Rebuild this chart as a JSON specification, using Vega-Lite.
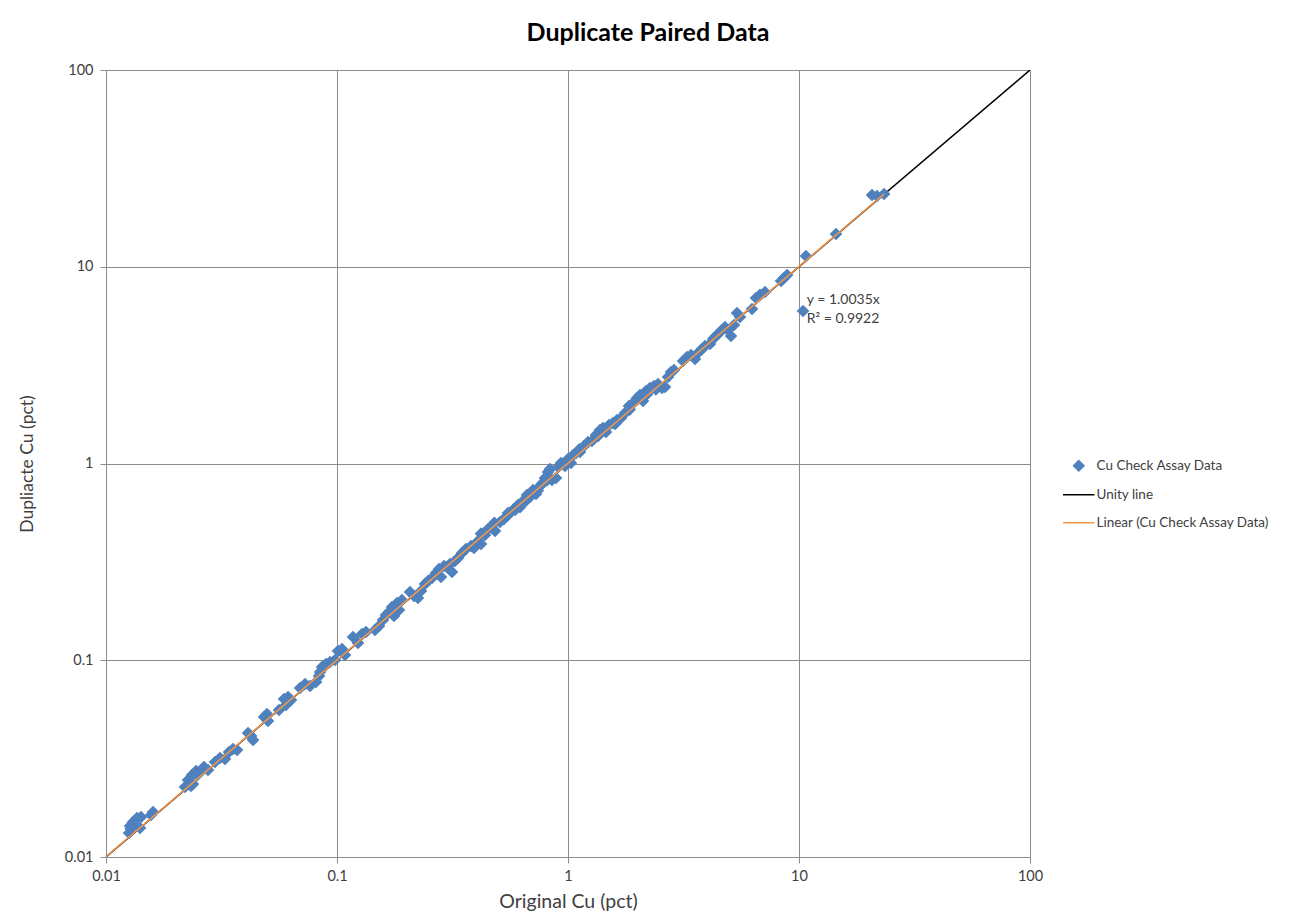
{
  "$schema": "https://vega.github.io/schema/vega-lite/v6.json",
  "autosize": "none",
  "width": 924,
  "height": 787,
  "padding": {"left": 106, "top": 70, "right": 260, "bottom": 65},
  "background": "white",
  "title": {"text": "Duplicate Paired Data", "anchor": "middle", "dx": 80, "fontSize": 25, "font": "Lato", "fontWeight": "bold", "color": "#000000", "offset": 16},
  "config": {
    "font": "Lato",
    "view": {"stroke": "#8c8c8c", "strokeWidth": 1},
    "axis": {"gridColor": "#8c8c8c", "gridOpacity": 1, "gridWidth": 1, "domainColor": "#8c8c8c", "tickColor": "#8c8c8c", "tickSize": 6, "labelFont": "Lato", "labelFontSize": 14.5, "labelColor": "#404040", "labelFlush": false, "titleFont": "Lato", "titleFontSize": 19.5, "titleFontWeight": "normal", "titleColor": "#404040"}
  },
  "datasets": {
    "pts": [
      {"orig": 0.01258, "dup": 0.01324}, {"orig": 0.0127, "dup": 0.01437}, {"orig": 0.01309, "dup": 0.01506}, {"orig": 0.01362, "dup": 0.01578},
      {"orig": 0.01418, "dup": 0.01597}, {"orig": 0.01404, "dup": 0.01404}, {"orig": 0.01566, "dup": 0.01635}, {"orig": 0.01598, "dup": 0.01693},
      {"orig": 0.0128, "dup": 0.0139}, {"orig": 0.0132, "dup": 0.0146},
      {"orig": 0.02198, "dup": 0.02269}, {"orig": 0.02265, "dup": 0.02463}, {"orig": 0.02357, "dup": 0.02611}, {"orig": 0.02453, "dup": 0.02736},
      {"orig": 0.02552, "dup": 0.02704}, {"orig": 0.02656, "dup": 0.02868}, {"orig": 0.02764, "dup": 0.02768}, {"orig": 0.02333, "dup": 0.02296},
      {"orig": 0.0238, "dup": 0.0235}, {"orig": 0.0249, "dup": 0.0261},
      {"orig": 0.02964, "dup": 0.0304}, {"orig": 0.03115, "dup": 0.03185}, {"orig": 0.03274, "dup": 0.03148}, {"orig": 0.03408, "dup": 0.03418},
      {"orig": 0.03547, "dup": 0.03538}, {"orig": 0.03693, "dup": 0.03498}, {"orig": 0.04121, "dup": 0.04268}, {"orig": 0.04246, "dup": 0.04121},
      {"orig": 0.04331, "dup": 0.03932}, {"orig": 0.0483, "dup": 0.05148}, {"orig": 0.04977, "dup": 0.05332}, {"orig": 0.05027, "dup": 0.04912},
      {"orig": 0.05609, "dup": 0.05587}, {"orig": 0.05897, "dup": 0.06353}, {"orig": 0.06137, "dup": 0.06504}, {"orig": 0.06324, "dup": 0.06281},
      {"orig": 0.06017, "dup": 0.05923}, {"orig": 0.06918, "dup": 0.07227}, {"orig": 0.07272, "dup": 0.07574}, {"orig": 0.07642, "dup": 0.07398},
      {"orig": 0.08115, "dup": 0.07755}, {"orig": 0.08361, "dup": 0.08318}, {"orig": 0.0861, "dup": 0.09242}, {"orig": 0.08963, "dup": 0.09572},
      {"orig": 0.09327, "dup": 0.09797}, {"orig": 0.08444, "dup": 0.08716}, {"orig": 0.09802, "dup": 0.1003}, {"orig": 0.101, "dup": 0.1114},
      {"orig": 0.1051, "dup": 0.1141}, {"orig": 0.1083, "dup": 0.1063}, {"orig": 0.1173, "dup": 0.1313}, {"orig": 0.1233, "dup": 0.1224},
      {"orig": 0.1283, "dup": 0.136}, {"orig": 0.1335, "dup": 0.1392}, {"orig": 0.146, "dup": 0.1425}, {"orig": 0.152, "dup": 0.1493},
      {"orig": 0.1582, "dup": 0.1601}, {"orig": 0.163, "dup": 0.1698}, {"orig": 0.168, "dup": 0.1759}, {"orig": 0.173, "dup": 0.1865},
      {"orig": 0.1765, "dup": 0.1678}, {"orig": 0.1819, "dup": 0.1954}, {"orig": 0.1911, "dup": 0.2024}, {"orig": 0.1855, "dup": 0.18},
      {"orig": 0.207, "dup": 0.2223}, {"orig": 0.2154, "dup": 0.2121}, {"orig": 0.2241, "dup": 0.2072}, {"orig": 0.231, "dup": 0.2249},
      {"orig": 0.2404, "dup": 0.2441}, {"orig": 0.2477, "dup": 0.2528}, {"orig": 0.2578, "dup": 0.2618}, {"orig": 0.2683, "dup": 0.2777},
      {"orig": 0.2764, "dup": 0.291}, {"orig": 0.282, "dup": 0.2649}, {"orig": 0.2906, "dup": 0.3013}, {"orig": 0.2993, "dup": 0.2978},
      {"orig": 0.3084, "dup": 0.3084}, {"orig": 0.3147, "dup": 0.281}, {"orig": 0.3242, "dup": 0.3195}, {"orig": 0.3341, "dup": 0.3309},
      {"orig": 0.3476, "dup": 0.3509}, {"orig": 0.3617, "dup": 0.3677}, {"orig": 0.3802, "dup": 0.3808}, {"orig": 0.3918, "dup": 0.372},
      {"orig": 0.4079, "dup": 0.4037}, {"orig": 0.4203, "dup": 0.3899}, {"orig": 0.4374, "dup": 0.4331}, {"orig": 0.4506, "dup": 0.4646},
      {"orig": 0.4689, "dup": 0.47}, {"orig": 0.4831, "dup": 0.4539}, {"orig": 0.42, "dup": 0.44}, {"orig": 0.48, "dup": 0.5},
      {"orig": 0.5077, "dup": 0.5043}, {"orig": 0.5286, "dup": 0.5223}, {"orig": 0.5446, "dup": 0.541}, {"orig": 0.5665, "dup": 0.5669},
      {"orig": 0.5837, "dup": 0.587}, {"orig": 0.6073, "dup": 0.6153}, {"orig": 0.6258, "dup": 0.6226}, {"orig": 0.6448, "dup": 0.6524},
      {"orig": 0.6644, "dup": 0.6918}, {"orig": 0.6846, "dup": 0.6758}, {"orig": 0.7054, "dup": 0.7333}, {"orig": 0.7268, "dup": 0.6998},
      {"orig": 0.7489, "dup": 0.7596}, {"orig": 0.7716, "dup": 0.7868}, {"orig": 0.7951, "dup": 0.844}, {"orig": 0.8192, "dup": 0.9054},
      {"orig": 0.8359, "dup": 0.9376}, {"orig": 0.8524, "dup": 0.8245}, {"orig": 0.8874, "dup": 0.844}, {"orig": 0.55, "dup": 0.56},
      {"orig": 0.62, "dup": 0.6}, {"orig": 0.74, "dup": 0.73}, {"orig": 0.59, "dup": 0.58}, {"orig": 0.66, "dup": 0.65},
      {"orig": 0.78, "dup": 0.8}, {"orig": 0.81, "dup": 0.82},
      {"orig": 0.9055, "dup": 0.9598}, {"orig": 0.9327, "dup": 1.006}, {"orig": 0.9705, "dup": 0.9712}, {"orig": 1.0, "dup": 1.054},
      {"orig": 1.03, "dup": 1.006}, {"orig": 1.083, "dup": 1.131}, {"orig": 1.127, "dup": 1.144}, {"orig": 1.173, "dup": 1.227},
      {"orig": 1.221, "dup": 1.286}, {"orig": 1.27, "dup": 1.301}, {"orig": 1.322, "dup": 1.396}, {"orig": 1.376, "dup": 1.48},
      {"orig": 1.418, "dup": 1.515}, {"orig": 1.461, "dup": 1.446}, {"orig": 1.505, "dup": 1.57}, {"orig": 1.566, "dup": 1.606},
      {"orig": 1.63, "dup": 1.664}, {"orig": 1.696, "dup": 1.703}, {"orig": 1.766, "dup": 1.806}, {"orig": 1.837, "dup": 1.96},
      {"orig": 1.912, "dup": 2.03}, {"orig": 1.99, "dup": 2.153}, {"orig": 2.05, "dup": 2.229}, {"orig": 2.112, "dup": 2.078},
      {"orig": 2.176, "dup": 2.336}, {"orig": 2.265, "dup": 2.419}, {"orig": 2.357, "dup": 2.477}, {"orig": 2.453, "dup": 2.535},
      {"orig": 2.552, "dup": 2.419}, {"orig": 2.63, "dup": 2.448}, {"orig": 2.71, "dup": 2.752}, {"orig": 2.792, "dup": 2.918},
      {"orig": 2.877, "dup": 2.987}, {"orig": 1.05, "dup": 1.1}, {"orig": 1.12, "dup": 1.18}, {"orig": 1.35, "dup": 1.38},
      {"orig": 1.6, "dup": 1.59}, {"orig": 1.85, "dup": 1.88}, {"orig": 2.2, "dup": 2.25}, {"orig": 2.4, "dup": 2.38},
      {"orig": 3.148, "dup": 3.319}, {"orig": 3.275, "dup": 3.478}, {"orig": 3.408, "dup": 3.561}, {"orig": 3.547, "dup": 3.397},
      {"orig": 3.691, "dup": 3.687}, {"orig": 3.803, "dup": 3.819}, {"orig": 3.919, "dup": 3.956}, {"orig": 4.119, "dup": 4.05},
      {"orig": 4.246, "dup": 4.295}, {"orig": 4.372, "dup": 4.446}, {"orig": 4.506, "dup": 4.606}, {"orig": 4.642, "dup": 4.77},
      {"orig": 4.783, "dup": 4.94}, {"orig": 4.926, "dup": 4.77}, {"orig": 5.077, "dup": 4.446}, {"orig": 5.231, "dup": 5.056},
      {"orig": 5.391, "dup": 5.821}, {"orig": 5.554, "dup": 5.554}, {"orig": 6.26, "dup": 6.1}, {"orig": 6.515, "dup": 6.94},
      {"orig": 6.78, "dup": 7.19}, {"orig": 7.125, "dup": 7.44}, {"orig": 8.36, "dup": 8.46}, {"orig": 8.61, "dup": 8.77},
      {"orig": 8.88, "dup": 9.08}, {"orig": 10.72, "dup": 11.34}, {"orig": 10.41, "dup": 5.96}, {"orig": 14.46, "dup": 14.67},
      {"orig": 20.7, "dup": 23.16}, {"orig": 21.76, "dup": 22.89}, {"orig": 23.35, "dup": 23.44}
    ],
    "unity": [{"orig": 0.01, "dup": 0.01}, {"orig": 100, "dup": 100}],
    "trend": [{"orig": 0.01, "dup": 0.010035}, {"orig": 23.35, "dup": 23.432}],
    "eq": [{"orig": 10.8, "dup": 6.75, "label": "y = 1.0035x"}, {"orig": 10.8, "dup": 5.45, "label": "R² = 0.9922"}]
  },
  "encoding": {
    "x": {"field": "orig", "type": "quantitative", "scale": {"type": "log", "domain": [0.01, 100], "nice": false},
          "axis": {"title": "Original Cu (pct)", "values": [0.01, 0.1, 1, 10, 100], "format": "~g", "labelPadding": 6, "titlePadding": 10}},
    "y": {"field": "dup", "type": "quantitative", "scale": {"type": "log", "domain": [0.01, 100], "nice": false},
          "axis": {"title": "Dupliacte Cu (pct)", "values": [0.01, 0.1, 1, 10, 100], "format": "~g", "labelPadding": 7, "titlePadding": 28, "titleFontSize": 17.5}}
  },
  "layer": [
    {
      "data": {"name": "unity"},
      "transform": [{"calculate": "'Unity line'", "as": "series"}],
      "mark": {"type": "line", "strokeWidth": 1.5, "clip": true},
      "encoding": {"color": {"field": "series", "type": "nominal", "scale": {"domain": ["Cu Check Assay Data", "Unity line", "Linear (Cu Check Assay Data)"], "range": ["#4F81BD", "#000000", "#F79646"]}}}
    },
    {
      "data": {"name": "pts"},
      "transform": [{"calculate": "'Cu Check Assay Data'", "as": "series"}],
      "mark": {"type": "point", "filled": true, "opacity": 1, "size": 160},
      "encoding": {
        "color": {"field": "series", "type": "nominal", "scale": {"domain": ["Cu Check Assay Data", "Unity line", "Linear (Cu Check Assay Data)"], "range": ["#4F81BD", "#000000", "#F79646"]},
          "legend": {"title": null, "orient": "none", "legendX": 966, "legendY": 389, "labelFontSize": 13.5, "labelColor": "#404040", "labelFont": "Lato", "labelLimit": 400, "symbolSize": 110, "rowPadding": 13, "labelOffset": 11, "symbolStrokeWidth": 1.5,
            "encode": {"symbols": {"update": {"shape": {"scale": "shape", "field": "value"}, "stroke": {"scale": "color", "field": "value"}, "fill": {"scale": "color", "field": "value"}}}}}},
        "shape": {"field": "series", "type": "nominal", "scale": {"domain": ["Cu Check Assay Data", "Unity line", "Linear (Cu Check Assay Data)"], "range": ["diamond", "M-3,0H3", "M-3,0H3"]}, "legend": null}
      }
    },
    {
      "data": {"name": "trend"},
      "transform": [{"calculate": "'Linear (Cu Check Assay Data)'", "as": "series"}],
      "mark": {"type": "line", "strokeWidth": 1.5},
      "encoding": {"color": {"field": "series", "type": "nominal", "scale": {"domain": ["Cu Check Assay Data", "Unity line", "Linear (Cu Check Assay Data)"], "range": ["#4F81BD", "#000000", "#F79646"]}}}
    },
    {
      "data": {"name": "eq"},
      "mark": {"type": "text", "align": "left", "baseline": "middle", "fontSize": 14, "font": "Lato", "color": "#404040"},
      "encoding": {"text": {"field": "label"}}
    }
  ]
}
